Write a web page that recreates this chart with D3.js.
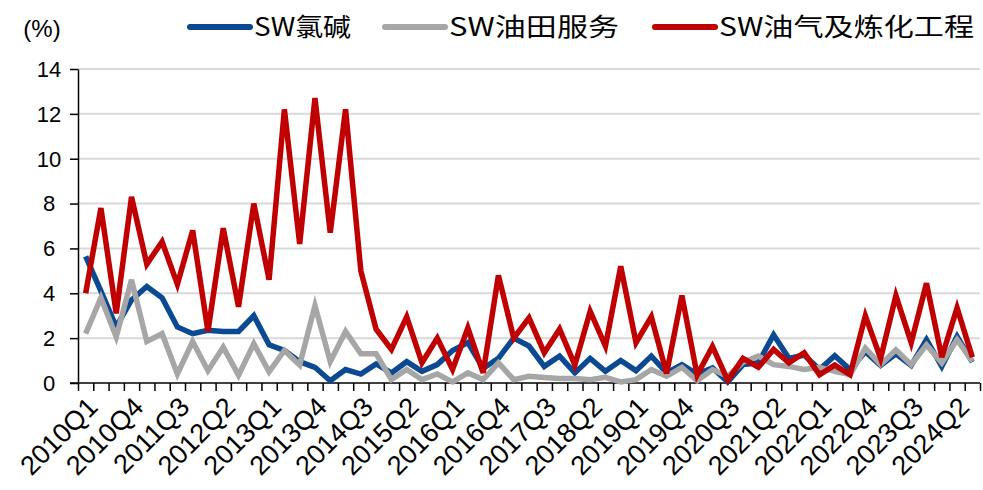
<!DOCTYPE html>
<html>
  <head>
    <meta charset="utf-8" />
    <script src="https://d3js.org/d3.v7.min.js"></script>
    <style>
      body { margin: 0; background: #fff; }
      .grid line { stroke: #d9d9d9; stroke-width: 2px; }
      .series { fill: none; stroke-width: 5.5px; stroke-linejoin: miter; }
      text { font-family: "Liberation Sans", Arial, sans-serif; fill: #000; }
      .legend text { font-family: "Liberation Sans Narrow", "Noto Sans CJK SC", sans-serif; }
    </style>
  </head>
  <body>
    <svg id="chart" width="983" height="490"></svg>

    <script>
      var quarters = [
        "2010Q1","2010Q2","2010Q3","2010Q4","2011Q1","2011Q2","2011Q3","2011Q4",
        "2012Q1","2012Q2","2012Q3","2012Q4","2013Q1","2013Q2","2013Q3","2013Q4",
        "2014Q1","2014Q2","2014Q3","2014Q4","2015Q1","2015Q2","2015Q3","2015Q4",
        "2016Q1","2016Q2","2016Q3","2016Q4","2017Q1","2017Q2","2017Q3","2017Q4",
        "2018Q1","2018Q2","2018Q3","2018Q4","2019Q1","2019Q2","2019Q3","2019Q4",
        "2020Q1","2020Q2","2020Q3","2020Q4","2021Q1","2021Q2","2021Q3","2021Q4",
        "2022Q1","2022Q2","2022Q3","2022Q4","2023Q1","2023Q2","2023Q3","2023Q4",
        "2024Q1","2024Q2","2024Q3"
      ];

      var tickLabels = ["2010Q1","2010Q4","2011Q3","2012Q2","2013Q1","2013Q4","2014Q3",
        "2015Q2","2016Q1","2016Q4","2017Q3","2018Q2","2019Q1","2019Q4","2020Q3",
        "2021Q2","2022Q1","2022Q4","2023Q3","2024Q2"];

      var yTicks = [0, 2, 4, 6, 8, 10, 12, 14];

      // SW氯碱
      var chlorAlkali = [
        5.65, 4.1, 2.5, 3.7, 4.3, 3.8, 2.5, 2.2, 2.35, 2.3,
        2.3, 3.0, 1.7, 1.45, 0.95, 0.7, 0.1, 0.6, 0.4, 0.85,
        0.45, 0.95, 0.52, 0.82, 1.45, 1.8, 0.65, 1.1, 2.0, 1.65,
        0.74, 1.2, 0.45, 1.1, 0.52, 1.0, 0.55, 1.2, 0.45, 0.82,
        0.4, 0.67, 0.05, 0.82, 0.9, 2.15, 1.1, 1.25, 0.6, 1.22,
        0.6, 1.4, 0.78, 1.3, 0.78, 1.93, 0.74, 2.08, 0.93
      ];

      // SW油田服务
      var oilfieldServices = [
        2.2, 3.8, 2.05, 4.6, 1.85, 2.2, 0.4, 1.85, 0.55, 1.6,
        0.35, 1.75, 0.5, 1.45, 0.8, 3.45, 0.95, 2.3, 1.3, 1.3,
        0.15, 0.6, 0.15, 0.4, 0.05, 0.45, 0.15, 0.9, 0.15, 0.3,
        0.25, 0.2, 0.2, 0.15, 0.25, 0.05, 0.15, 0.6, 0.3, 0.7,
        0.1, 0.6, 0.3, 0.93, 1.2, 0.82, 0.74, 0.6, 0.7, 0.52,
        0.37, 1.56, 0.82, 1.48, 0.82, 1.7, 0.9, 1.93, 0.96
      ];

      // SW油气及炼化工程
      var oilGasRefining = [
        4.0, 7.8, 3.1, 8.3, 5.3, 6.3, 4.4, 6.8, 2.3, 6.9,
        3.4, 8.0, 4.6, 12.2, 6.2, 12.7, 6.7, 12.2, 5.0, 2.4,
        1.5, 2.95, 0.9, 2.0, 0.6, 2.45, 0.45, 4.8, 2.0, 2.9,
        1.35, 2.4, 0.8, 3.2, 1.65, 5.2, 1.8, 2.95, 0.42, 3.9,
        0.35, 1.63, 0.12, 1.1, 0.7, 1.5, 0.9, 1.35, 0.37, 0.8,
        0.37, 3.0, 1.1, 3.9, 1.8, 4.45, 1.15, 3.35, 1.15
      ];

      var seriesNames = ["SW氯碱", "SW油田服务", "SW油气及炼化工程"];
      var seriesColors = ["#0b4a93", "#a6a6a6", "#c00000"];
      var seriesData = [chlorAlkali, oilfieldServices, oilGasRefining];

      var svg = d3.select("#chart");

      var plotLeft = 78, plotRight = 980, plotTop = 69, plotBottom = 383;

      var x = d3.scaleBand()
        .domain(quarters)
        .range([plotLeft, plotRight])
        .padding(0);

      var y = d3.scaleLinear()
        .domain([0, 14])
        .range([plotBottom, plotTop]);

      //gridlines
      svg.append("g")
        .attr("class", "grid")
        .selectAll("line")
        .data(yTicks.filter(function(d) { return d > 0; }))
        .enter().append("line")
        .attr("x1", plotLeft)
        .attr("x2", plotRight)
        .attr("y1", function(d) { return y(d); })
        .attr("y2", function(d) { return y(d); });

      // y axis
      var yAxis = svg.append("g")
        .attr("transform", "translate(" + plotLeft + ",0)")
        .call(d3.axisLeft(y).tickValues(yTicks).tickSize(8).tickFormat("").tickSizeOuter(0));
      yAxis.selectAll("line, path").attr("stroke", "#000").attr("stroke-width", 1.5);

      svg.append("g").selectAll("text")
        .data(yTicks)
        .enter().append("text")
        .attr("x", 49)
        .attr("y", function(d) { return y(d); })
        .attr("dy", "0.36em")
        .attr("text-anchor", "middle")
        .attr("font-size", 22)
        .text(function(d) { return d; });

      // x axis ticks at band edges
      var edge = d3.scaleLinear().domain([0, quarters.length]).range([plotLeft, plotRight]);
      var xAxis = svg.append("g")
        .attr("transform", "translate(0," + plotBottom + ")")
        .call(d3.axisBottom(edge).tickValues(d3.range(0, quarters.length + 1)).tickSize(8).tickFormat("").tickSizeOuter(0));
      xAxis.selectAll("line, path").attr("stroke", "#000").attr("stroke-width", 1.5);
      xAxis.select("path").attr("d", "M" + (plotLeft - 8) + ",0H" + plotRight);

      svg.append("g").selectAll("text")
        .data(tickLabels)
        .enter().append("text")
        .attr("transform", function(d) {
          var cx = x(d) + x.bandwidth() / 2;
          return "translate(" + (cx + 7) + "," + (plotBottom + 19) + ") rotate(-45)";
        })
        .attr("text-anchor", "end")
        .attr("dy", "0.35em")
        .attr("font-size", 27)
        .text(function(d) { return d; });

      // lines
      var line = d3.line()
        .x(function(d, i) { return x(quarters[i]) + x.bandwidth() / 2; })
        .y(function(d) { return y(d); });

      svg.append("g").selectAll("path")
        .data(seriesData)
        .enter().append("path")
        .attr("class", "series")
        .attr("stroke", function(d, i) { return seriesColors[i]; })
        .attr("d", line);

      // legend
      svg.append("text")
        .attr("x", 42)
        .attr("y", 28)
        .attr("dy", "0.36em")
        .attr("text-anchor", "middle")
        .attr("font-size", 24)
        .attr("font-family", "Noto Sans CJK SC")
        .text("(%)");

      var legendX = [190, 385, 655];
      var legendW = [97, 170, 255];
      var legend = svg.append("g").attr("class", "legend");
      seriesNames.forEach(function(name, i) {
        legend.append("line")
          .attr("x1", legendX[i])
          .attr("x2", legendX[i] + 60)
          .attr("y1", 27)
          .attr("y2", 27)
          .attr("stroke", seriesColors[i])
          .attr("stroke-width", 6)
          .attr("stroke-linecap", "round");
        legend.append("text")
          .attr("x", legendX[i] + 64)
          .attr("y", 27)
          .attr("dy", "0.36em")
          .attr("font-size", 25)
          .attr("textLength", legendW[i])
          .attr("lengthAdjust", "spacingAndGlyphs")
          .text(name);
      });
    </script>
  </body>
</html>
